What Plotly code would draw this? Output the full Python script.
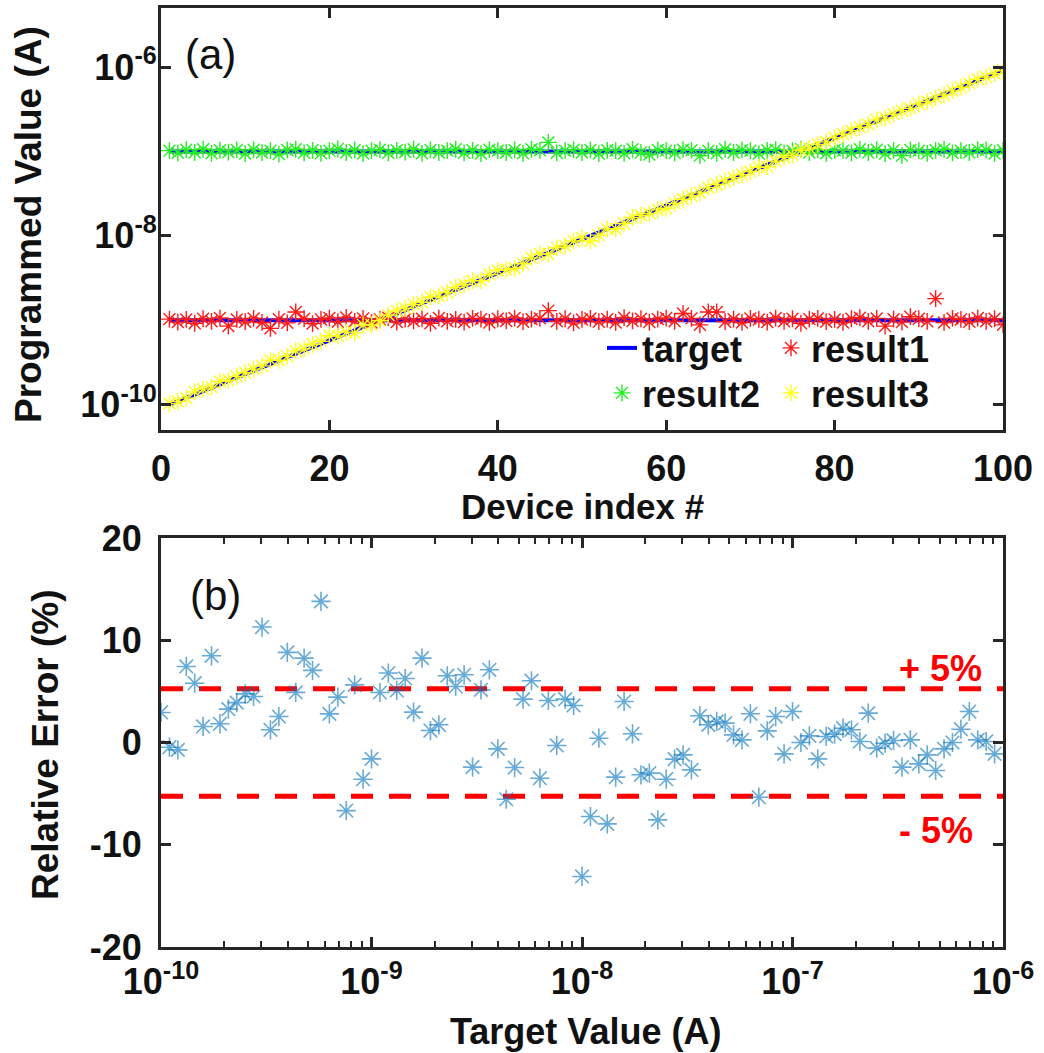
import plotly.graph_objects as go

# ---------------- data ----------------
DEVICE_INDEX = list(range(1, 101))

# target exponents of the swept series (log10 of target current, A)
TARGET_SWEEP_EXP = [
    -10.00, -9.96, -9.92, -9.88, -9.84, -9.80, -9.76, -9.72, -9.68, -9.64,
    -9.60, -9.56, -9.52, -9.48, -9.44, -9.40, -9.36, -9.32, -9.28, -9.24,
    -9.20, -9.16, -9.12, -9.08, -9.04, -9.00, -8.96, -8.92, -8.88, -8.84,
    -8.80, -8.76, -8.72, -8.68, -8.64, -8.60, -8.56, -8.52, -8.48, -8.44,
    -8.40, -8.36, -8.32, -8.28, -8.24, -8.20, -8.16, -8.12, -8.08, -8.04,
    -8.00, -7.96, -7.92, -7.88, -7.84, -7.80, -7.76, -7.72, -7.68, -7.64,
    -7.60, -7.56, -7.52, -7.48, -7.44, -7.40, -7.36, -7.32, -7.28, -7.24,
    -7.20, -7.16, -7.12, -7.08, -7.04, -7.00, -6.96, -6.92, -6.88, -6.84,
    -6.80, -6.76, -6.72, -6.68, -6.64, -6.60, -6.56, -6.52, -6.48, -6.44,
    -6.40, -6.36, -6.32, -6.28, -6.24, -6.20, -6.16, -6.12, -6.08, -6.04,
]
TARGET_LOW = 1e-9
TARGET_HIGH = 1e-7

# relative error (%) of result3 (swept target) -- panel (b)
REL_ERR_RESULT3 = [
    2.94, -0.46, -0.72, 7.44, 5.80, 1.57, 8.48, 1.83, 3.26, 3.90,
    4.76, 4.50, 11.29, 1.24, 2.54, 8.81, 4.90, 8.25, 7.05, 13.80,
    2.80, 4.44, -6.66, 5.64, -3.59, -1.60, 4.89, 6.79, 5.09, 6.26,
    2.97, 8.25, 1.17, 1.73, 6.53, 5.48, 6.62, -2.41, 5.15, 7.11,
    -0.62, -5.55, -2.45, 4.24, 6.04, -3.49, 4.11, -0.29, 4.24, 3.62,
    -13.10, -7.24, 0.42, -7.96, -3.39, 4.01, 0.85, -3.16, -3.00, -7.57,
    -3.59, -1.63, -1.21, -2.68, 2.61, 1.73, 2.06, 1.89, 0.75, 0.26,
    2.81, -5.35, 1.14, 2.54, -1.11, 3.03, 0.00, 0.65, -1.60, 0.59,
    0.82, 1.40, 1.24, 0.10, 2.87, -0.55, -0.07, 0.20, -2.41, 0.26,
    -2.09, -1.21, -2.74, -0.62, 0.00, 1.30, 3.03, 0.26, 0.10, -1.11,
]

# relative error (%) of result1 (target 1 nA) -- estimated from panel (a)
REL_ERR_RESULT1 = [
    3, -5, 2, -8, 4, -3, 6, -15, 2, -4,
    5, -6, -20, 3, -7, 25, 4, -9, 2, 6,
    -4, 8, -3, 5, -6, 2, 7, -5, 3, -2,
    4, -8, 6, -3, 2, -5, 5, 3, -6, 4,
    -2, 6, -4, 3, 5, 30, -3, 4, -7, 2,
    5, -4, 3, -6, 7, -2, 4, -5, 3, 6,
    -3, 20, 5, -12, 25, 25, -4, 3, -6, 5,
    2, -5, 6, -3, 4, -8, 3, 5, -4, 2,
    -6, 4, 7, -3, 5, -15, 3, -5, 10, 4,
    -3, 80, -6, 5, 2, -4, 6, -3, 4, -12,
]

# relative error (%) of result2 (target 100 nA) -- estimated from panel (a)
REL_ERR_RESULT2 = [
    2, -4, 5, -3, 6, -5, 3, -2, 4, -6,
    5, -3, 2, -7, 4, 6, -4, 3, -5, 2,
    7, -3, 4, -6, 2, 5, -4, 3, -2, 6,
    -5, 4, -3, 2, 6, -4, 3, -6, 5, 2,
    -3, 4, -5, 6, 3, 28, -4, 2, 5, -3,
    4, -6, 3, 2, -5, 6, -3, -8, 4, 2,
    -4, 5, 3, -11, 2, -5, 6, -3, 4, 2,
    -6, 3, 5, -4, 2, 6, -3, 4, -5, 3,
    2, -4, 6, -3, 5, -6, 3, -11, 4, 2,
    -5, 3, 6, -4, 2, -3, 5, 4, -6, 3,
]

ERR_BAND = 5.25
TOP_YTICKS = [1e-10, 1e-8, 1e-6]
TOP_YTICKTEXT = ["10<sup>-10</sup>", "10<sup>-8</sup>", "10<sup>-6</sup>"]
TOP_XTICKS = [0, 20, 40, 60, 80, 100]
BOT_XTICKS = [1e-10, 1e-9, 1e-8, 1e-7, 1e-6]
BOT_XTICKTEXT = ["10<sup>-10</sup>", "10<sup>-9</sup>", "10<sup>-8</sup>",
                 "10<sup>-7</sup>", "10<sup>-6</sup>"]
BOT_YTICKS = [-20, -10, 0, 10, 20]
BOT_YTICKTEXT = ["-20", "-10", "0", "10", "20"]

# ---------------- derived ----------------
target_sweep = [10 ** e for e in TARGET_SWEEP_EXP]
result1 = [TARGET_LOW * (1 + e / 100) for e in REL_ERR_RESULT1]
result2 = [TARGET_HIGH * (1 + e / 100) for e in REL_ERR_RESULT2]
result3 = [t * (1 + e / 100) for t, e in zip(target_sweep, REL_ERR_RESULT3)]

W, H = 1044, 1053
def px(x):
    return x / W
def py(y):
    return 1 - y / H

FONT = "Liberation Sans, Arial, sans-serif"
TXT = "#111111"
AX = "#262626"

fig = go.Figure()

blue = "#0000FF"
fig.add_trace(go.Scatter(x=DEVICE_INDEX, y=[TARGET_LOW] * len(DEVICE_INDEX), mode="lines",
                         line=dict(color=blue, width=4), name="target",
                         legend="legend", xaxis="x", yaxis="y"))
fig.add_trace(go.Scatter(x=DEVICE_INDEX, y=[TARGET_HIGH] * len(DEVICE_INDEX), mode="lines",
                         line=dict(color=blue, width=4), showlegend=False,
                         xaxis="x", yaxis="y"))
fig.add_trace(go.Scatter(x=DEVICE_INDEX, y=target_sweep, mode="lines",
                         line=dict(color=blue, width=4), showlegend=False,
                         xaxis="x", yaxis="y"))

def star(color, size=14, width=1.4):
    return dict(symbol="asterisk-open", size=size, color=color,
                line=dict(color=color, width=width))

fig.add_trace(go.Scatter(x=DEVICE_INDEX, y=result1, mode="markers", name="result1",
                         marker=star("#FF1A1A"), legend="legend", xaxis="x", yaxis="y"))
fig.add_trace(go.Scatter(x=DEVICE_INDEX, y=result2, mode="markers", name="result2",
                         marker=star("#22EE22"), legend="legend2", xaxis="x", yaxis="y"))
fig.add_trace(go.Scatter(x=DEVICE_INDEX, y=result3, mode="markers", name="result3",
                         marker=star("#FFFF1A"), legend="legend2", xaxis="x", yaxis="y"))

# panel (b)
for lvl in (ERR_BAND, -ERR_BAND):
    fig.add_trace(go.Scatter(x=[BOT_XTICKS[0], BOT_XTICKS[-1]], y=[lvl, lvl], mode="lines",
                             line=dict(color="#FF0000", width=5, dash="22px,16px"),
                             showlegend=False, xaxis="x2", yaxis="y2"))
fig.add_trace(go.Scatter(x=target_sweep, y=REL_ERR_RESULT3, mode="markers",
                         marker=star("rgba(0,114,189,0.6)", size=16, width=1.6),
                         showlegend=False, xaxis="x2", yaxis="y2"))

tickfont = dict(family=FONT, size=36, color=TXT, weight="bold")
axis_common = dict(showline=True, linecolor=AX, linewidth=3, mirror="ticks",
                   ticks="inside", tickcolor=AX, tickwidth=2.5, ticklen=10,
                   showgrid=False, zeroline=False, tickfont=tickfont,
                   automargin=False)

minor_vals = []
for dec in BOT_XTICKS[:-1]:
    for m in range(2, 10):
        minor_vals.append(dec * m)

fig.update_layout(
    width=W, height=H, margin=dict(l=0, r=0, t=0, b=0),
    paper_bgcolor="white", plot_bgcolor="white",
    xaxis=dict(domain=[px(161), px(1003)], range=[0, 100], anchor="y",
               tickvals=TOP_XTICKS, ticklabelstandoff=5, **axis_common),
    yaxis=dict(domain=[py(430), py(8)], type="log", range=[-10.301, -5.301], anchor="x",
               tickvals=TOP_YTICKS, ticktext=TOP_YTICKTEXT, ticklabelstandoff=-6,
               **axis_common),
    xaxis2=dict(domain=[px(161), px(1003)], type="log", range=[-10, -6], anchor="y2",
                tickvals=BOT_XTICKS, ticktext=BOT_XTICKTEXT, ticklabelstandoff=1,
                minor=dict(tickvals=minor_vals, ticks="inside", ticklen=6,
                           tickcolor=AX, tickwidth=2),
                **axis_common),
    yaxis2=dict(domain=[py(947), py(538)], range=[-20, 20], anchor="x2",
                tickvals=BOT_YTICKS, ticktext=BOT_YTICKTEXT, ticklabelstandoff=9,
                **axis_common),
    legend=dict(orientation="h", x=px(602), y=py(348), xanchor="left", yanchor="middle",
                bgcolor="rgba(0,0,0,0)", entrywidth=124, entrywidthmode="pixels",
                font=dict(family=FONT, size=36, color=TXT, weight="bold"),
                itemwidth=30, tracegroupgap=0),
    legend2=dict(orientation="h", x=px(602), y=py(393), xanchor="left", yanchor="middle",
                 bgcolor="rgba(0,0,0,0)", entrywidth=124, entrywidthmode="pixels",
                 font=dict(family=FONT, size=36, color=TXT, weight="bold"),
                 itemwidth=30, tracegroupgap=0),
    showlegend=True,
)

def ann(text, x, y, size=36, color=TXT, bold=True, angle=0):
    fig.add_annotation(text=text, x=px(x), y=py(y), xref="paper", yref="paper",
                       showarrow=False, xanchor="center", yanchor="middle", textangle=angle,
                       font=dict(family=FONT, size=size, color=color,
                                 weight="bold" if bold else "normal"))

ann("(a)", 210, 55, size=42, bold=False)
ann("(b)", 215, 595, size=42, bold=False)
ann("Device index #", 582, 506, size=35)
ann("Target Value (A)", 585, 1031)
ann("Programmed Value (A)", 28, 225, size=37, angle=-90)
ann("Relative Error (%)", 45, 745, size=37, angle=-90)
ann("+ 5%", 940, 668, color="#FF0000")
ann("- 5%", 936, 830, color="#FF0000")

fig.write_html("out.html", config={"displayModeBar": False},
               post_script="document.body.style.margin='0';document.body.style.overflow='hidden';")
